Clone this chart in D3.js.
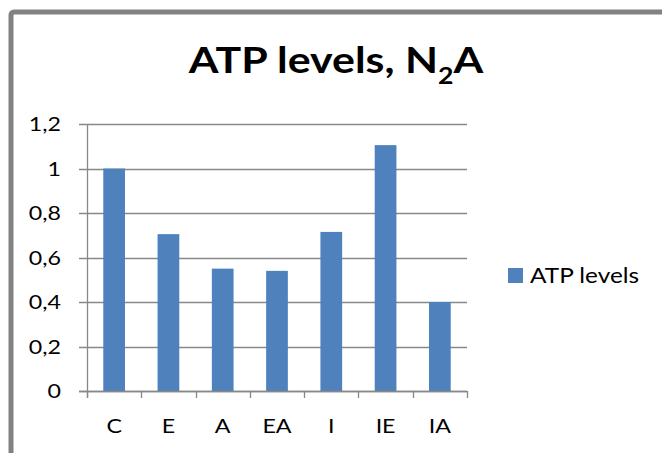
<!DOCTYPE html>
<html>
<head>
<meta charset="utf-8">
<script src="https://cdn.jsdelivr.net/npm/d3@7/dist/d3.min.js"></script>
<style>
  html, body { margin: 0; padding: 0; background: #fff; }
  svg { display: block; }
  text { font-family: Lato, "Open Sans", sans-serif; fill: #000; }
</style>
</head>
<body>
<svg id="chart" width="662" height="453"></svg>
<script>
// ATP levels per condition
const categories = ["C", "E", "A", "EA", "I", "IE", "IA"];
const atpLevels = [1.0, 0.705, 0.55, 0.54, 0.715, 1.105, 0.40];
const yTicks = [0, 0.2, 0.4, 0.6, 0.8, 1.0, 1.2];
const seriesName = "ATP levels";

const svg = d3.select("#chart");
const gridColor = "#888888";
const barColor = "#4F81BD";
const stretch = 1.16; // horizontal widening of the typeface

const place = (x, y) => `translate(${x},${y}) scale(${stretch},1)`;

// outer chart frame (runs past the right and bottom edges)
svg.append("rect")
  .attr("x", 11).attr("y", 12)
  .attr("width", 720).attr("height", 520)
  .attr("rx", 3)
  .attr("fill", "none")
  .attr("stroke", "#828282")
  .attr("stroke-width", 5);

// title with subscript
const title = svg.append("text")
  .attr("transform", place(336, 73))
  .attr("text-anchor", "middle")
  .style("font-weight", "bold")
  .style("font-size", "37px");
title.append("tspan").text("ATP levels, N");
title.append("tspan").attr("dy", 11).style("font-size", "23px").text("2");
title.append("tspan").attr("dy", -11).text("A");

const plot = { left: 87, right: 467, top: 124, bottom: 391 };

const x = d3.scaleBand()
  .domain(categories)
  .range([plot.left, plot.right])
  .paddingInner(0.6)
  .paddingOuter(0.3);

const y = d3.scaleLinear()
  .domain([0, 1.2])
  .range([plot.bottom, plot.top]);

const fmt = v => d3.format("~g")(+v.toFixed(1)).replace(".", ",");

// horizontal gridlines with left tick marks
svg.append("g")
  .selectAll("line")
  .data(yTicks)
  .join("line")
  .attr("x1", plot.left - 8).attr("x2", plot.right)
  .attr("y1", d => Math.round(y(d)) + 0.5)
  .attr("y2", d => Math.round(y(d)) + 0.5)
  .attr("stroke", gridColor)
  .attr("stroke-width", 1.3);

// y tick labels
svg.append("g")
  .selectAll("text")
  .data(yTicks)
  .join("text")
  .attr("transform", d => place(61, y(d) + 7))
  .attr("text-anchor", "end")
  .style("font-size", "20px")
  .text(fmt);

// bars
svg.append("g")
  .selectAll("rect")
  .data(atpLevels)
  .join("rect")
  .attr("x", (d, i) => x(categories[i]))
  .attr("width", x.bandwidth())
  .attr("y", d => y(d))
  .attr("height", d => y(0) - y(d))
  .attr("fill", barColor);

// y axis line
svg.append("line")
  .attr("x1", plot.left + 0.5).attr("x2", plot.left + 0.5)
  .attr("y1", plot.top).attr("y2", plot.bottom + 7)
  .attr("stroke", gridColor)
  .attr("stroke-width", 1.3);

// baseline
svg.append("line")
  .attr("x1", plot.left - 8).attr("x2", plot.right)
  .attr("y1", Math.round(y(0)) + 0.5).attr("y2", Math.round(y(0)) + 0.5)
  .attr("stroke", gridColor)
  .attr("stroke-width", 1.3);

// category boundary ticks
const boundaries = d3.range(categories.length + 1)
  .map(i => plot.left + i * x.step());
svg.append("g")
  .selectAll("line")
  .data(boundaries)
  .join("line")
  .attr("x1", d => Math.round(d) + 0.5).attr("x2", d => Math.round(d) + 0.5)
  .attr("y1", y(0)).attr("y2", y(0) + 7)
  .attr("stroke", gridColor)
  .attr("stroke-width", 1.3);

// category labels
svg.append("g")
  .selectAll("text")
  .data(categories)
  .join("text")
  .attr("transform", d => place(x(d) + x.bandwidth() / 2, 433))
  .attr("text-anchor", "middle")
  .style("font-size", "20px")
  .text(d => d);

// legend
const legend = svg.append("g");
legend.append("rect")
  .attr("x", 508).attr("y", 268)
  .attr("width", 15).attr("height", 15)
  .attr("fill", barColor);
legend.append("text")
  .attr("transform", place(530, 283))
  .style("font-size", "21px")
  .text(seriesName);
</script>
</body>
</html>
